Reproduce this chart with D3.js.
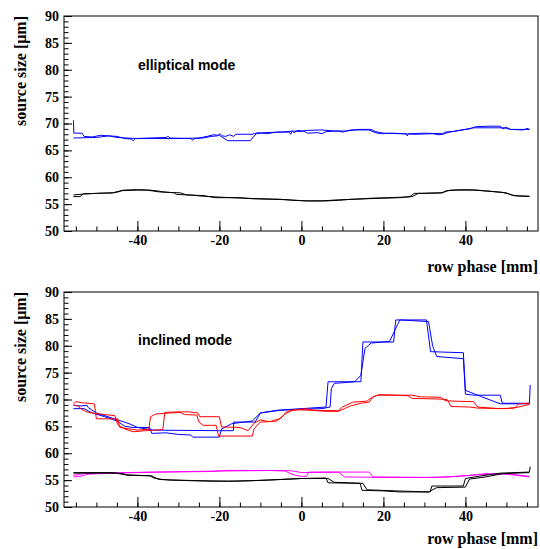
<!DOCTYPE html>
<html>
<head>
<meta charset="utf-8">
<script src="https://cdn.jsdelivr.net/npm/d3@7"></script>
<style>
  body { margin: 0; background: #fff; }
  .tick text { font-family: "Liberation Serif", serif; font-weight: bold; font-size: 14px; fill: #000; }
  .title { font-family: "Liberation Serif", serif; font-weight: bold; font-size: 16px; }
  .mode { font-family: "Liberation Sans", Arial, sans-serif; font-weight: bold; font-size: 14px; }
</style>
</head>
<body>
<div id="chart"></div>
<script>
// x tick labels and y range (source size, um)
const xMajor = [-40, -20, 0, 20, 40];
const yMajor = [50, 55, 60, 65, 70, 75, 80, 85, 90];

// elliptical mode: [row phase mm, source size um]
const ellBlue1 = [[-55.6,70.6],[-55.5,68.2],[-53.5,68.2],[-53,67.6],[-51,67.5],[-49,67.8],[-47,67.7],[-45,67.6],[-43,67.2],[-41.5,67.1],[-41,66.8],[-40.5,67.2],[-37,67.3],[-33,67.4],[-32.5,67.6],[-32,67.3],[-27,67.2],[-26.5,66.9],[-26,67.2],[-24,67.3],[-22,67.6],[-20.5,67.7],[-19.8,68.1],[-19.3,67.7],[-18.5,67.6],[-17.5,67.9],[-16.5,67.6],[-16,68.0],[-12,68.0],[-10.5,68.3],[-8.5,68.1],[-6,68.4],[-3,68.4],[-2.6,68.0],[-2.3,68.6],[-1.8,68.3],[-1,68.7],[0.5,68.6],[1.5,68.2],[4,68.3],[5,68.1],[6,68.5],[9,68.6],[10,68.4],[12,68.8],[14,68.8],[16.5,68.8],[18,68.3],[19.5,68.1],[22,68.2],[25.5,68.1],[25.8,67.7],[26.2,68.1],[30,68.2],[34.5,68.1],[35,68.4],[37,68.5],[39,68.8],[41,69.0],[42.5,69.4],[46,69.5],[48.5,69.5],[49,69.0],[50,69.3],[51,68.9],[54,68.8],[55.3,69.1],[55.6,68.8]];
const ellBlue2 = [[-55.6,67.3],[-50,67.4],[-47,67.7],[-45,67.4],[-40,67.2],[-36,67.2],[-30,67.2],[-25,67.3],[-23,67.6],[-21.5,67.9],[-20,67.8],[-18,66.8],[-12.5,66.8],[-11,68.1],[-9,68.3],[-5,68.4],[-2,68.6],[0,68.5],[0.8,68.7],[5,68.8],[8,68.6],[11,68.6],[14,68.9],[17,68.9],[18,68.5],[20,68.2],[28,68.0],[32,68.1],[33.5,67.9],[34.5,68.0],[36,68.4],[38.5,68.7],[42,69.2],[47.5,69.2],[49.5,69.2],[51,68.9],[55.6,68.9]];
const ellBlack1 = [[-55.6,56.4],[-54,56.4],[-53.2,56.9],[-50,57.0],[-46,57.1],[-44.5,57.3],[-43.5,57.6],[-40,57.7],[-37,57.6],[-35.5,57.5],[-34,57.3],[-31,57.1],[-30.5,56.8],[-27,56.7],[-24.5,56.5],[-20,56.3],[-17,56.2],[-14,56.1],[-10,56.0],[-5,55.9],[-2,55.7],[2,55.6],[6,55.6],[9,55.7],[12,55.9],[16,56.0],[20,56.1],[24,56.2],[26.5,56.4],[27.5,57.0],[30,57.0],[34.5,57.1],[35.3,57.5],[38,57.6],[42,57.6],[46,57.4],[49,57.2],[50.5,56.9],[52,56.6],[55.6,56.4]];
const ellBlack2 = [[-55.6,56.7],[-53,56.9],[-50,57.0],[-46,57.1],[-44,57.5],[-40,57.6],[-37.5,57.6],[-35,57.3],[-33,57.2],[-29.5,57.1],[-28,56.7],[-24,56.6],[-21,56.2],[-15,56.2],[-12,56.0],[-7,55.9],[-3,55.8],[1,55.6],[5,55.6],[9,55.8],[13,55.9],[17,56.1],[21,56.2],[25,56.3],[27,56.4],[28.5,57.0],[34,57.1],[36.3,57.6],[40,57.7],[43,57.6],[47,57.3],[50,57.1],[51.5,56.6],[53,56.5],[55.6,56.5]];

// inclined mode
const incBlue1 = [[-55.6,68.3],[-53,68.3],[-51,67.5],[-48,66.8],[-45,66.0],[-43,65.0],[-41,64.8],[-37,64.8],[-36.5,63.7],[-33,63.8],[-30,63.5],[-27,63.4],[-26.5,63.0],[-20,63.0],[-19.5,64.5],[-17,65.5],[-12,66.0],[-10,67.5],[-6,68.0],[-2,68.2],[2,68.4],[6,68.6],[6.5,73.3],[14.5,73.3],[15,80.7],[22.5,80.7],[23,84.8],[30.5,84.8],[31.5,78.9],[39.5,78.7],[40,71.7],[44,70.5],[48.5,69.2],[55.6,69.2],[55.8,72.7]];
const incBlue2 = [[-55.6,68.9],[-54,68.8],[-52.3,68.9],[-52,68.5],[-50,67.5],[-46,66.5],[-44,66.0],[-42,65.5],[-40,64.8],[-36,64.3],[-20,64.2],[-16.6,64.2],[-16.5,65.8],[-11.3,65.8],[-10,67.5],[-5,68.0],[0,68.2],[5,68.3],[7,68.6],[7.3,72.0],[8,73.0],[13,73.3],[14.5,74.5],[15.5,79.5],[17,80.5],[21.5,80.8],[23.5,84.0],[24,84.8],[31,84.5],[32,80.0],[33,78.0],[39.5,77.6],[40,71.0],[42,70.8],[48.5,70.8],[49,69.3],[55.6,69.3]];
const incRed1 = [[-55.6,69.2],[-55,69.6],[-53.5,69.4],[-50.5,69.2],[-50,66.4],[-44.8,66.4],[-44.3,64.8],[-40,64.3],[-37.2,64.5],[-36.8,66.8],[-35.5,67.3],[-32,67.5],[-29.5,67.6],[-28.5,67.2],[-25.5,67.1],[-25,65.8],[-24,65.2],[-20.8,65.2],[-20.2,63.2],[-12,63.2],[-11.5,64.6],[-10,65.8],[-7.5,65.9],[-5,66.5],[-3.5,67.8],[-1,68.1],[1,68.3],[3,68.0],[9,67.9],[10,68.6],[12.5,69.5],[16,69.7],[17,70.3],[18.5,70.8],[27,70.8],[29,70.5],[34,70.4],[35,69.8],[37,69.7],[42,69.6],[43,68.6],[48,68.3],[52,68.4],[53,69.2],[55.6,69.3]];
const incRed2 = [[-55.6,69.0],[-54.5,68.8],[-53.5,68.1],[-52,67.6],[-48,67.2],[-45.5,67.0],[-44.8,65.3],[-43,64.5],[-41,64.0],[-38,64.2],[-33.8,64.4],[-33.3,67.6],[-30,67.7],[-27.5,67.7],[-25.3,67.5],[-24.8,66.8],[-20,66.8],[-19.5,64.9],[-15,64.8],[-13,64.2],[-11.5,65.6],[-10,66.2],[-8,65.9],[-6,66.0],[-4,67.3],[-2,68.1],[2,68.0],[6,67.8],[9,67.8],[10.5,68.3],[12,68.8],[14.5,69.3],[16.5,69.5],[17.5,70.5],[19,70.9],[26,70.7],[27,70.2],[33,70.1],[35.5,70.0],[36.5,68.7],[41,68.6],[43,68.4],[50,68.3],[53,68.6],[55.6,69.1]];
const incMagenta1 = [[-55.6,55.6],[-54,55.7],[-52,56.1],[-47,56.3],[-44,56.4],[-35,56.5],[-22,56.6],[-18,56.8],[-8,56.8],[-4,56.7],[-2,56.0],[0,55.7],[1.2,55.7],[1.8,56.5],[9,56.5],[10.5,55.6],[20,55.5],[33,55.5],[40,55.8],[45,56.2],[50,56.1],[55.6,55.6]];
const incMagenta2 = [[-55.6,55.9],[-53,56.2],[-45,56.3],[-35,56.5],[-20,56.7],[-5,56.8],[-2,56.7],[0,56.4],[10,56.5],[16.5,56.5],[17.5,55.6],[30,55.5],[36,55.6],[43,56.0],[50,56.2],[55.6,55.7]];
const incBlack1 = [[-55.6,56.3],[-50,56.3],[-45,56.3],[-43.5,56.2],[-42.5,55.9],[-37,55.8],[-36,55.4],[-34,55.1],[-30,55.0],[-25,54.9],[-18,54.8],[-12,54.9],[-6,55.1],[0,55.3],[6,55.4],[6.5,54.5],[14.3,54.4],[14.8,53.1],[20,53.0],[24,52.8],[31.4,52.8],[31.8,53.9],[39.5,53.9],[40,55.3],[44,55.8],[48.5,56.3],[55.6,56.5],[55.8,57.5]];
const incBlack2 = [[-55.6,56.4],[-46,56.4],[-43,56.0],[-36.5,55.8],[-35,55.2],[-32,55.0],[-22,54.8],[-16,54.8],[-8,55.0],[0,55.3],[6.5,55.3],[8,54.6],[15,54.4],[16,53.2],[23,53.0],[31,52.8],[33,53.6],[40,53.7],[41,55.2],[45,55.6],[49,56.2],[55.6,56.4]];

const width = 540, height = 549;
const svg = d3.select("#chart").append("svg")
    .attr("width", width)
    .attr("height", height);

const x = d3.scaleLinear().domain([-57.9, 57.7]).range([64, 538]);

const panels = [
    { top: 16, bottom: 231, label: "elliptical mode", labelY: 70, titleY: 272,
      series: [[ellBlue1, "#0000ff"], [ellBlue2, "#0000ff"], [ellBlack1, "#000"], [ellBlack2, "#000"]] },
    { top: 292, bottom: 507, label: "inclined mode", labelY: 345, titleY: 544,
      series: [[incBlue1, "#0000ff"], [incBlue2, "#0000ff"], [incRed1, "#ff0000"], [incRed2, "#ff0000"],
               [incMagenta1, "#ff00ff"], [incMagenta2, "#ff00ff"], [incBlack1, "#000"], [incBlack2, "#000"]] }
];

panels.forEach(p => {
    let y = d3.scaleLinear().domain([50, 90]).range([p.bottom, p.top]);
    let g = svg.append("g");

    // minor ticks
    g.append("g")
        .attr("transform", `translate(0,${p.bottom})`)
        .call(d3.axisBottom(x).tickValues(d3.range(-55, 56, 5)).tickSizeInner(-4.5).tickSizeOuter(0).tickFormat(""))
        .call(a => a.select(".domain").remove());
    g.append("g")
        .attr("transform", `translate(64,0)`)
        .call(d3.axisLeft(y).tickValues(d3.range(50, 91, 1)).tickSizeInner(-4.5).tickSizeOuter(0).tickFormat(""))
        .call(a => a.select(".domain").remove());

    // major ticks with labels (plain hyphen for negatives)
    g.append("g")
        .attr("transform", `translate(0,${p.bottom})`)
        .call(d3.axisBottom(x).tickValues(xMajor).tickSizeInner(-10).tickSizeOuter(0).tickPadding(4).tickFormat(d => String(d)))
        .call(a => a.select(".domain").remove());
    g.append("g")
        .attr("transform", `translate(64,0)`)
        .call(d3.axisLeft(y).tickValues(yMajor).tickSizeInner(-8).tickSizeOuter(0).tickPadding(5))
        .call(a => a.select(".domain").remove());

    g.selectAll(".tick line").attr("stroke", "#000");

    // data lines
    let line = d3.line().x(d => x(d[0])).y(d => y(d[1]));
    p.series.forEach(([data, color]) => {
        g.append("path")
            .datum(data)
            .attr("fill", "none")
            .attr("stroke", color)
            .attr("stroke-width", 1)
            .attr("d", line);
    });

    // frame
    g.append("rect")
        .attr("x", 64).attr("y", p.top)
        .attr("width", 538 - 64).attr("height", p.bottom - p.top)
        .attr("fill", "none").attr("stroke", "#000").attr("stroke-width", 1);

    // titles
    g.append("text").attr("class", "title")
        .attr("text-anchor", "end")
        .attr("x", 538).attr("y", p.titleY)
        .text("row phase [mm]");
    g.append("text").attr("class", "title")
        .attr("text-anchor", "end")
        .attr("transform", `translate(26,${p.top}) rotate(-90)`)
        .text("source size [\u03bcm]");
    g.append("text").attr("class", "mode")
        .attr("x", 138).attr("y", p.labelY)
        .text(p.label);
});
</script>
</body>
</html>
